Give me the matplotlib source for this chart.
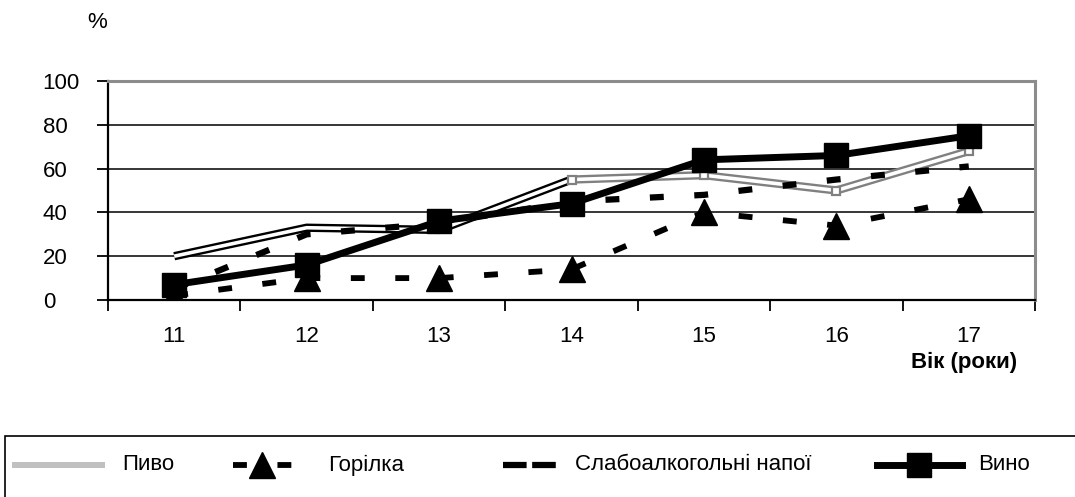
import matplotlib
matplotlib.use('Agg')
import matplotlib.pyplot as plt
import matplotlib.patheffects as pe
from matplotlib.lines import Line2D
from matplotlib.patches import Rectangle

plt.rcParams['font.family'] = ['Liberation Sans', 'DejaVu Sans']
plt.rcParams['lines.scale_dashes'] = False

ages = ['11', '12', '13', '14', '15', '16', '17']
beer = [20, 33, 32, 55, 57, 50, 68]
vodka = [2, 10, 10, 14, 40, 34, 46]
light = [5, 30, 35, 45, 48, 55, 61]
wine = [7, 16, 36, 44, 64, 66, 75]
names = ['Пиво', 'Горілка', 'Слабоалкогольні напої', 'Вино']

W, H = 1075, 497
FS = 16
fig = plt.figure(figsize=(W / 100, H / 100), dpi=100)
ax = fig.add_axes([108 / W, 1 - 300 / H, (1035 - 108) / W, (300 - 81) / H])

x = list(range(len(ages)))

# beer: hollow line, black outline in the first part, grey later
ax.plot(x[:4], beer[:4], color='white', lw=2.6, solid_capstyle='butt', zorder=2,
        path_effects=[pe.Stroke(linewidth=6, foreground='black'), pe.Normal()])
ax.plot(x[3:], beer[3:], color='white', lw=2.6, solid_capstyle='butt', zorder=2,
        path_effects=[pe.Stroke(linewidth=6, foreground='#808080'), pe.Normal()])
ax.plot(x[3:], beer[3:], ls='none', marker='s', ms=5.5, mfc='white', mec='#808080', mew=1.6, zorder=2)

ax.plot(x, vodka, color='black', lw=4.2, dashes=(10, 22), dash_capstyle='butt',
        marker='^', ms=19, mec='black', zorder=3)
ax.plot(x, light, color='black', lw=4.5, dashes=(10, 22), dash_capstyle='butt', zorder=4)
ax.plot(x, wine, color='black', lw=5, marker='s', ms=17, zorder=5)

ax.set_xlim(-0.5, 6.5)
ax.set_ylim(0, 100)
ax.set_yticks([0, 20, 40, 60, 80, 100])
ax.yaxis.grid(True, color='black', lw=1.1)
ax.set_axisbelow(True)

ax.set_xticks([i - 0.5 for i in range(len(ages) + 1)])
ax.set_xticklabels([])
ax.set_xticks(x, minor=True)
ax.set_xticklabels(ages, minor=True)
ax.tick_params(axis='x', which='major', length=8, width=1.3, direction='out')
ax.tick_params(axis='x', which='minor', length=0, pad=19, labelsize=FS)
ax.tick_params(axis='y', length=8, width=1.3, direction='out', pad=39, labelsize=FS)
for lab in ax.get_yticklabels():
    lab.set_ha('left')

for s in ['left', 'bottom']:
    ax.spines[s].set_linewidth(1.6)
    ax.spines[s].set_color('black')
for s in ['top', 'right']:
    ax.spines[s].set_linewidth(2.2)
    ax.spines[s].set_color('#8c8c8c')

fig.text(97 / W, 1 - 22 / H, '%', fontsize=FS, ha='center', va='center')
fig.text(964 / W, 1 - 362 / H, 'Вік (роки)', fontsize=FS, fontweight='bold',
         ha='center', va='center')

# legend box, drawn by hand
def fx(px):
    return px / W

def fy(py):
    return 1 - py / H

fig.add_artist(Rectangle((fx(5), fy(520)), fx(1100) - fx(5), fy(436) - fy(520),
                         transform=fig.transFigure, fill=False, ec='black', lw=1.2))
ly = fy(465)
fig.add_artist(Line2D([fx(12), fx(105)], [ly, ly], color='#c0c0c0', lw=4.3,
                      solid_capstyle='butt', transform=fig.transFigure))
fig.add_artist(Line2D([fx(233), fx(292)], [ly, ly], color='black', lw=4.2,
                      dashes=(10, 22), dash_capstyle='butt', transform=fig.transFigure))
fig.add_artist(Line2D([fx(262)], [ly], ls='none', marker='^', ms=19, color='black',
                      transform=fig.transFigure))
fig.add_artist(Line2D([fx(503), fx(558)], [ly, ly], color='black', lw=4.5,
                      dashes=(17, 4), dash_capstyle='butt', transform=fig.transFigure))
fig.add_artist(Line2D([fx(877), fx(962)], [ly, ly], color='black', lw=5,
                      transform=fig.transFigure))
fig.add_artist(Line2D([fx(919)], [ly], ls='none', marker='s', ms=17, color='black',
                      transform=fig.transFigure))
for tx, name in zip([122, 328, 575, 978], names):
    fig.text(fx(tx), ly, name, fontsize=FS, ha='left', va='center')

fig.savefig('out.png', dpi=100)
